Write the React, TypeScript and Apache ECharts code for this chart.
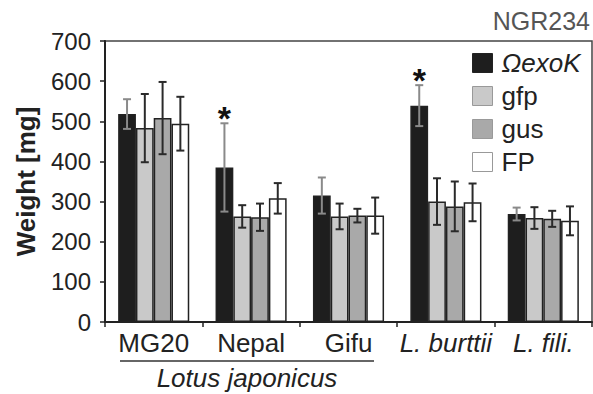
import React, { useEffect, useRef } from "react";
import * as echarts from "echarts";

const categories = ["MG20", "Nepal", "Gifu", "L. burttii", "L. fili."];
const seriesNames = ["ΩexoK", "gfp", "gus", "FP"];
const exoK = [518, 385, 315, 539, 269];
const exoKErr = [37, 110, 45, 51, 16];
const gfp = [483, 263, 263, 300, 259];
const gfpErr = [85, 28, 32, 58, 27];
const gus = [508, 261, 265, 288, 257];
const gusErr = [90, 34, 17, 62, 20];
const fp = [494, 308, 265, 298, 252];
const fpErr = [67, 38, 45, 47, 36];
const exoKStar = [false, true, false, true, false];
const yTicks = [0, 100, 200, 300, 400, 500, 600, 700];

const FONT = "'Liberation Sans', Arial, Helvetica, sans-serif";
const colors = ["#1e1e1e", "#c9c9c9", "#a9a9a9", "#ffffff"];
const CAT_GAP = 0.27;

export default function App() {
  const ref = useRef<HTMLDivElement>(null);
  useEffect(() => {
    if (!ref.current) return;
    const chart = echarts.init(ref.current, null, { renderer: "svg" });
    const values = [exoK, gfp, gus, fp];
    const errs = [exoKErr, gfpErr, gusErr, fpErr];
    const errData: number[][] = [];
    values.forEach((vals, s) => {
      vals.forEach((v, c) => {
        errData.push([c, v, errs[s][c], s, s === 0 && exoKStar[c] ? 1 : 0]);
      });
    });

    const barSeries = values.map((vals, s) => ({
      name: seriesNames[s],
      type: "bar",
      data: vals,
      barGap: "0%",
      barCategoryGap: CAT_GAP * 100 + "%",
      itemStyle: {
        color: colors[s],
        borderColor: "#222",
        borderWidth: 1.5,
      },
      z: 2,
    }));

    const option: any = {
      animation: false,
      backgroundColor: "#fff",
      textStyle: { fontFamily: FONT },
      grid: {
        left: 105,
        right: 1,
        top: 41,
        bottom: 72,
        show: true,
        borderColor: "#444",
        borderWidth: 1.5,
      },
      legend: {
        orient: "vertical",
        left: 472,
        top: 50,
        padding: 0,
        itemWidth: 20,
        itemHeight: 19,
        itemGap: 7,
        data: seriesNames.map((n, i) => ({
          name: n,
          icon: "rect",
          itemStyle: { borderColor: i === 0 ? "#222" : "#999", borderWidth: 1 },
          textStyle: { fontStyle: i === 0 ? "italic" : "normal" },
        })),
        textStyle: { fontFamily: FONT, fontSize: 26, color: "#222", padding: [0, 0, 0, 4] },
      },
      xAxis: {
        type: "category",
        data: categories,
        axisLine: { lineStyle: { color: "#222", width: 2 } },
        axisTick: { show: true, length: 5, lineStyle: { color: "#222", width: 1.5 } },
        axisLabel: {
          interval: 0,
          margin: 8,
          fontSize: 26,
          color: "#222",
          fontFamily: FONT,
          formatter: (v: string) => (v.startsWith("L.") ? "{i|" + v + "}" : v),
          rich: { i: { fontStyle: "italic", fontSize: 26, fontFamily: FONT, color: "#222" } },
        },
      },
      yAxis: {
        type: "value",
        min: yTicks[0],
        max: yTicks[yTicks.length - 1],
        interval: 100,
        name: "Weight [mg]",
        nameLocation: "middle",
        nameRotate: 90,
        nameGap: 66,
        nameTextStyle: { fontFamily: FONT, fontSize: 26, fontWeight: "bold", color: "#222" },
        axisLine: { show: true, lineStyle: { color: "#222", width: 2 } },
        axisTick: { show: true, length: 5, lineStyle: { color: "#222", width: 1.5 } },
        axisLabel: { margin: 14, fontSize: 24, color: "#222", fontFamily: FONT },
        splitLine: { show: false },
      },
      graphic: [
        {
          type: "text",
          right: 3,
          top: 8,
          style: {
            text: "NGR234",
            fontFamily: FONT,
            fontSize: 25,
            fill: "#555",
          },
        },
        {
          type: "line",
          shape: { x1: 120, y1: 361, x2: 374, y2: 361 },
          style: { stroke: "#333", lineWidth: 1.5 },
        },
        {
          type: "text",
          x: 247,
          y: 378,
          style: {
            text: "Lotus japonicus",
            fontFamily: FONT,
            fontSize: 26,
            fontStyle: "italic",
            fill: "#222",
            align: "center",
            verticalAlign: "middle",
          },
        },
      ],
      series: [
        ...barSeries,
        {
          type: "custom",
          name: "err",
          data: errData,
          z: 5,
          silent: true,
          renderItem: (params: any, api: any) => {
            const c = api.value(0);
            const v = api.value(1);
            const e = api.value(2);
            const s = api.value(3);
            const star = api.value(4);
            const bandW = api.size([1, 0])[0];
            const barW = (bandW * (1 - CAT_GAP)) / 4;
            const center = api.coord([c, 0]);
            const x = center[0] - (bandW * (1 - CAT_GAP)) / 2 + barW * (s + 0.5);
            const yTop = api.coord([c, v + e])[1];
            const yBot = api.coord([c, v - e])[1];
            const stroke = s === 0 ? "#8a8a8a" : "#2a2a2a";
            const cap = 4;
            const children: any[] = [
              { type: "line", shape: { x1: x, y1: yTop, x2: x, y2: yBot }, style: { stroke, lineWidth: 2 } },
              { type: "line", shape: { x1: x - cap, y1: yTop, x2: x + cap, y2: yTop }, style: { stroke, lineWidth: 2 } },
              { type: "line", shape: { x1: x - cap, y1: yBot, x2: x + cap, y2: yBot }, style: { stroke, lineWidth: 2 } },
            ];
            if (star) {
              children.push({
                type: "text",
                x: x,
                y: yTop - 5,
                style: {
                  text: "*",
                  fontFamily: FONT,
                  fontSize: 34,
                  fontWeight: "bold",
                  fill: "#111",
                  align: "center",
                  verticalAlign: "middle",
                },
              });
            }
            return { type: "group", children };
          },
        },
      ],
    };
    chart.setOption(option);
    return () => chart.dispose();
  }, []);
  return (
    <div
      ref={ref}
      style={{ position: "fixed", left: 0, top: 0, width: 593, height: 394 }}
    />
  );
}
